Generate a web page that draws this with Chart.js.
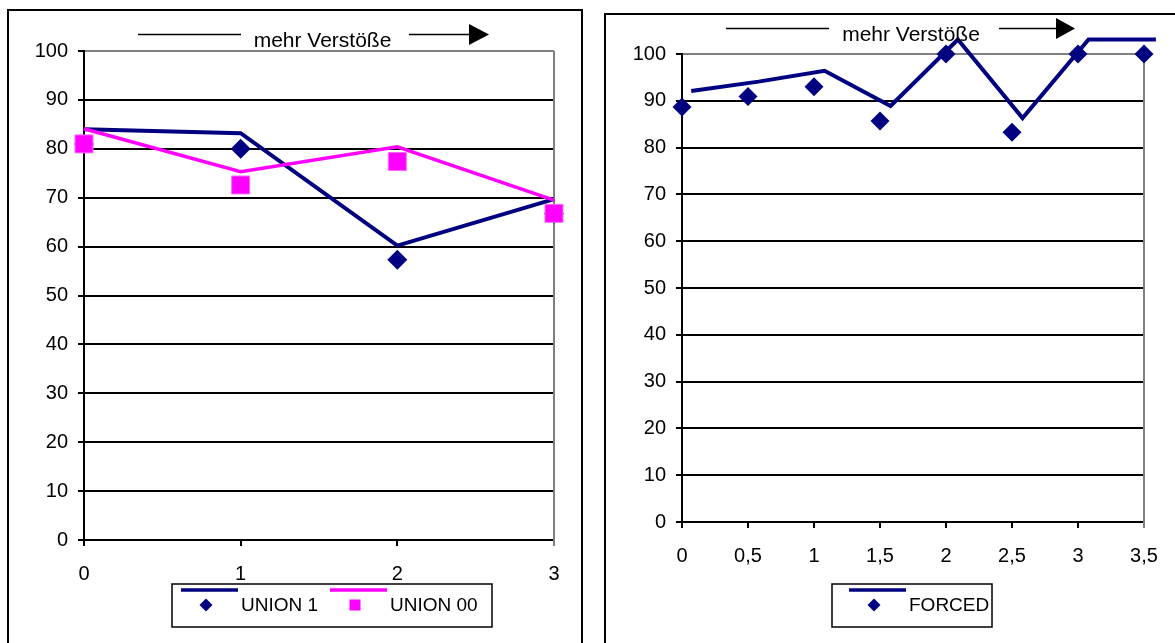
<!DOCTYPE html>
<html>
<head>
<meta charset="utf-8">
<script src="https://cdn.jsdelivr.net/npm/chart.js@4"></script>
<style>
  html, body { margin: 0; padding: 0; background: #fff; overflow: hidden; width: 1175px; height: 643px; }
  .frame { position: absolute; box-sizing: border-box; border: 2px solid #000; }
  #frameLeft { left: 7px; top: 9px; width: 576px; height: 700px; }
  #frameRight { left: 604px; top: 13px; width: 700px; height: 700px; }
  canvas { position: absolute; top: 0; }
  #leftChart { left: 0; }
  #rightChart { left: 590px; }
</style>
</head>
<body>
<div class="frame" id="frameLeft"></div>
<div class="frame" id="frameRight"></div>
<canvas id="leftChart" width="590" height="643"></canvas>
<canvas id="rightChart" width="585" height="643"></canvas>
<script>
// left chart data
const leftX = [0, 1, 2, 3];
const union1Points = [81, 80, 57.3, 66.7];
const union1Line = [84, 83.2, 60.2, 69.7];
const union00Points = [81, 72.6, 77.4, 66.8];
const union00Line = [84.1, 75.3, 80.4, 69.5];
const leftTickLabels = ['0', '1', '2', '3'];

// right chart data
const rightX = [0, 0.5, 1, 1.5, 2, 2.5, 3, 3.5];
const forcedPoints = [88.7, 90.9, 93.0, 85.7, 100, 83.3, 100, 100];
const forcedLineX = [0.07, 0.58, 1.08, 1.58, 2.09, 2.58, 3.08, 3.59];
const forcedLine = [92.1, 94.1, 96.4, 88.9, 103.1, 86.3, 103.1, 103.1];
const rightTickLabels = ['0', '0,5', '1', '1,5', '2', '2,5', '3', '3,5'];

const NAVY = '#000080';
const PINK = '#FF00FF';
const FONT = '"Liberation Sans", Arial, sans-serif';

function toPoints(xs, ys) {
    return xs.map((x, i) => ({ x: x, y: ys[i] }));
}

// arrow with "mehr Verstöße" above the plot
const arrowPlugin = {
    id: 'arrow',
    afterDraw(chart, args, opts) {
        const ctx = chart.ctx;
        ctx.save();
        ctx.strokeStyle = '#000';
        ctx.lineWidth = 1.5;
        ctx.beginPath();
        ctx.moveTo(opts.l1[0], opts.y);
        ctx.lineTo(opts.l1[1], opts.y);
        ctx.moveTo(opts.l2[0], opts.y);
        ctx.lineTo(opts.l2[1], opts.y);
        ctx.stroke();
        ctx.fillStyle = '#000';
        ctx.beginPath();
        ctx.moveTo(opts.l2[1], opts.y - 10.5);
        ctx.lineTo(opts.tip, opts.y);
        ctx.lineTo(opts.l2[1], opts.y + 10.5);
        ctx.closePath();
        ctx.fill();
        ctx.font = '21px ' + FONT;
        ctx.textAlign = 'center';
        ctx.textBaseline = 'alphabetic';
        ctx.fillText('mehr Verstöße', opts.textX, opts.textY);
        ctx.restore();
    }
};

// gray right border of the plot area
const plotFrame = {
    id: 'plotFrame',
    beforeDatasetsDraw(chart) {
        const a = chart.chartArea;
        const ctx = chart.ctx;
        ctx.save();
        ctx.strokeStyle = '#808080';
        ctx.lineWidth = 2;
        ctx.beginPath();
        ctx.moveTo(a.right, a.top);
        ctx.lineTo(a.right, a.bottom + 6);
        ctx.stroke();
        ctx.restore();
    }
};

// Excel style legend: line sample on top, marker below
const boxLegend = {
    id: 'boxLegend',
    afterDraw(chart, args, opts) {
        const ctx = chart.ctx;
        const b = opts.box;
        ctx.save();
        ctx.fillStyle = '#fff';
        ctx.fillRect(b.x, b.y, b.w, b.h);
        ctx.strokeStyle = '#000';
        ctx.lineWidth = 1.5;
        ctx.strokeRect(b.x, b.y, b.w, b.h);
        opts.items.forEach(item => {
            const ds = chart.data.datasets[item.dataset];
            ctx.strokeStyle = ds.legendColor;
            ctx.lineWidth = 3.5;
            ctx.beginPath();
            ctx.moveTo(item.x, b.y + 6);
            ctx.lineTo(item.x + 57, b.y + 6);
            ctx.stroke();
            const mx = item.x + 25, my = b.y + 21;
            ctx.fillStyle = ds.legendColor;
            ctx.beginPath();
            if (ds.pointStyle === 'rectRot') {
                ctx.moveTo(mx, my - 6.5);
                ctx.lineTo(mx + 6.5, my);
                ctx.lineTo(mx, my + 6.5);
                ctx.lineTo(mx - 6.5, my);
            } else {
                ctx.rect(mx - 5.5, my - 5.5, 11, 11);
            }
            ctx.closePath();
            ctx.fill();
            ctx.fillStyle = '#000';
            ctx.font = '19px ' + FONT;
            ctx.textBaseline = 'middle';
            ctx.textAlign = 'left';
            ctx.fillText(ds.label, item.x + 60, my + 1);
        });
        ctx.restore();
    }
};

function axes(xMin, xMax, xStep, xLabels, xHeight) {
    return {
        x: {
            type: 'linear',
            min: xMin,
            max: xMax,
            afterFit: s => { s.height = xHeight; },
            grid: { drawOnChartArea: false, drawTicks: true, tickLength: 6, tickColor: '#000', lineWidth: 2 },
            border: { color: '#000', width: 2 },
            ticks: {
                stepSize: xStep,
                padding: 16,
                maxRotation: 0,
                autoSkip: false,
                color: '#000',
                font: { family: FONT, size: 20 },
                callback: (v, i) => xLabels[i]
            }
        },
        y: {
            min: 0,
            max: 100,
            afterFit: s => { s.width = 60; },
            grid: {
                color: c => c.tick && c.tick.value === 100 ? '#808080' : '#000',
                lineWidth: 2,
                tickLength: 6,
                tickColor: '#000'
            },
            border: { color: '#000', width: 2 },
            ticks: {
                stepSize: 10,
                padding: 10,
                color: '#000',
                font: { family: FONT, size: 20 }
            }
        }
    };
}

const common = {
    responsive: false,
    animation: false,
    devicePixelRatio: 1,
    plugins: { legend: { display: false }, tooltip: { enabled: false } }
};

new Chart(document.getElementById('leftChart'), {
    type: 'scatter',
    data: {
        datasets: [
            {
                label: 'UNION 1 line', data: toPoints(leftX, union1Line), showLine: true,
                borderColor: NAVY, borderWidth: 4, pointRadius: 0, order: 3, clip: false
            },
            {
                label: 'UNION 00 line', data: toPoints(leftX, union00Line), showLine: true,
                borderColor: PINK, borderWidth: 3.5, pointRadius: 0, order: 2, clip: false
            },
            {
                label: 'UNION 1', data: toPoints(leftX, union1Points), pointStyle: 'rectRot',
                pointRadius: 10, backgroundColor: NAVY, borderColor: NAVY, borderWidth: 0,
                legendColor: NAVY, order: 1, clip: false
            },
            {
                label: 'UNION 00', data: toPoints(leftX, union00Points), pointStyle: 'rect',
                pointRadius: 12.7, backgroundColor: PINK, borderColor: '#ff66ff', borderWidth: 1,
                legendColor: PINK, order: 0, clip: false
            }
        ]
    },
    options: Object.assign({}, common, {
        layout: { padding: { left: 24, right: 36, top: 51, bottom: 0 } },
        scales: axes(0, 3, 1, leftTickLabels, 103),
        plugins: Object.assign({}, common.plugins, {
            arrow: { l1: [138, 241], l2: [409, 469], tip: 489, y: 34.5, textX: 322.5, textY: 46.5 },
            boxLegend: {
                box: { x: 172, y: 584, w: 320, h: 43 },
                items: [{ dataset: 2, x: 181 }, { dataset: 3, x: 330 }]
            }
        })
    }),
    plugins: [plotFrame, arrowPlugin, boxLegend]
});

new Chart(document.getElementById('rightChart'), {
    type: 'scatter',
    data: {
        datasets: [
            {
                label: 'FORCED line', data: toPoints(forcedLineX, forcedLine), showLine: true,
                borderColor: NAVY, borderWidth: 4, pointRadius: 0, order: 1, clip: false
            },
            {
                label: 'FORCED', data: toPoints(rightX, forcedPoints), pointStyle: 'rectRot',
                pointRadius: 9.5, backgroundColor: NAVY, borderColor: NAVY, borderWidth: 0,
                legendColor: NAVY, order: 0, clip: false
            }
        ]
    },
    options: Object.assign({}, common, {
        layout: { padding: { left: 32, right: 31, top: 54, bottom: 0 } },
        scales: axes(0, 3.5, 0.5, rightTickLabels, 121),
        plugins: Object.assign({}, common.plugins, {
            arrow: { l1: [136, 239], l2: [409, 466], tip: 485, y: 28.5, textX: 321, textY: 40.5 },
            boxLegend: {
                box: { x: 242, y: 584, w: 160, h: 43 },
                items: [{ dataset: 1, x: 259 }]
            }
        })
    }),
    plugins: [plotFrame, arrowPlugin, boxLegend]
});
</script>
</body>
</html>
